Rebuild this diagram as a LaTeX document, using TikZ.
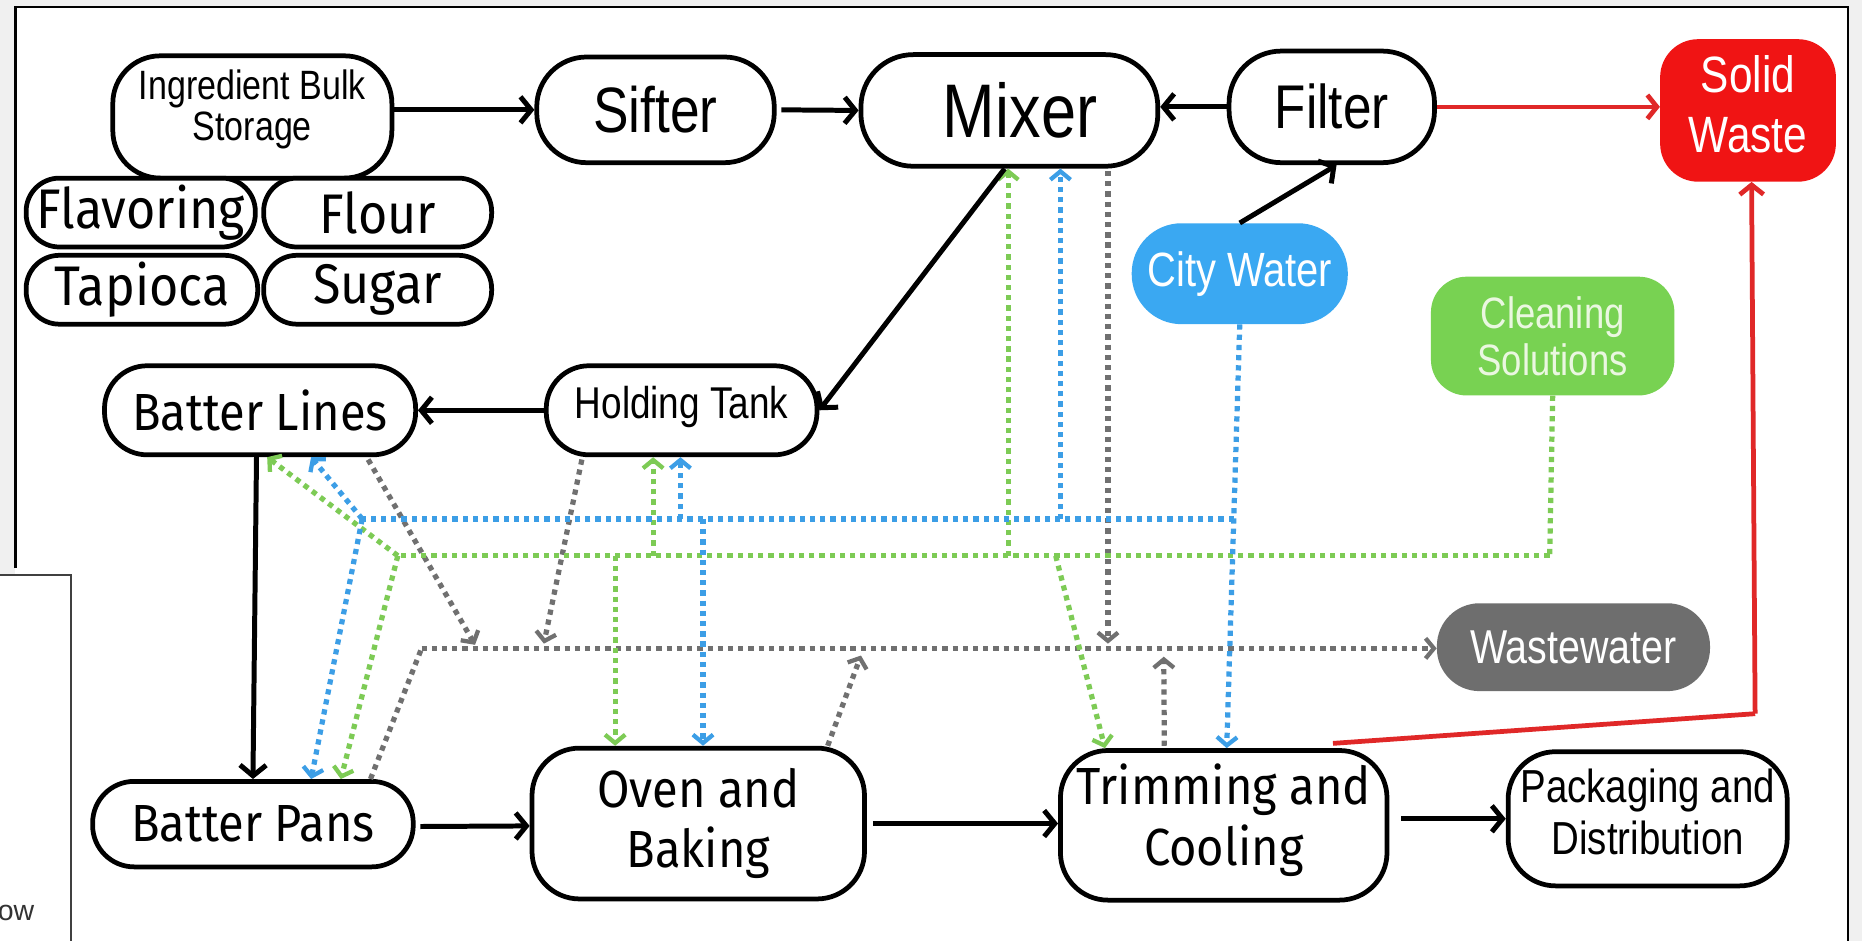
\documentclass[tikz,border=0pt]{standalone}
\usepackage{fontspec}
\setmainfont{Liberation Sans}
\newfontfamily\narrowsf[FakeStretch=0.83]{Liberation Sans}
\newfontfamily\roundsf[FakeStretch=0.9]{Fira Sans}
\usetikzlibrary{arrows.meta}
\newcommand{\setfs}[2]{\fontsize{#1}{#2}\selectfont}
\definecolor{pagegray}{HTML}{F0F0F0}
\definecolor{wastered}{HTML}{F01414}
\definecolor{linered}{HTML}{E02828}
\definecolor{waterblue}{HTML}{3AA8F2}
\definecolor{dotblue}{HTML}{3C9EE6}
\definecolor{cleangreen}{HTML}{78D252}
\definecolor{dotgreen}{HTML}{7DCB55}
\definecolor{wwgray}{HTML}{6E6E6E}
\definecolor{dotgray}{HTML}{707070}
\definecolor{paletext}{HTML}{EAF7E0}
\tikzset{
  box/.style={draw=black, line width=4pt, fill=white, inner sep=0pt, align=center},
  filled/.style={inner sep=0pt, align=center},
  flow/.style={draw=black, line width=4.2pt, -{Straight Barb[length=9pt,width=22pt]}},
  redflow/.style={draw=linered, line width=4pt, -{Straight Barb[length=8pt,width=20pt]}},
  redline/.style={draw=linered, line width=4pt},
  dots/.style={line width=4.4pt, dash pattern=on 4.4pt off 4.2pt},
  dtip/.style={-{Straight Barb[length=7pt,width=17pt,line width=3.6pt]}},
  bluedot/.style={dots, draw=dotblue},
  greendot/.style={dots, draw=dotgreen},
  graydot/.style={dots, draw=dotgray},
}
\begin{document}
\begin{tikzpicture}[x=1pt,y=-1pt]
\useasboundingbox (0,0) rectangle (1568,792);
% page and window frame
\fill[pagegray] (0,0) rectangle (1568,792);
\fill[white] (13,6) rectangle (1556,800);
\draw[line width=2pt] (13,478) -- (13,6) -- (1556,6) -- (1556,800);
% second window in the lower left corner
\fill[white] (-5,484) rectangle (60,800);
\draw[line width=1.4pt, draw=black!75] (-5,484) -- (60,484) -- (60,800);
\node[anchor=east, inner sep=0pt, font=\setfs{24}{28}, text=black!80] (owtext) at (29,769) {ow};

% ingredient nodes
\node[box, minimum width=235pt, minimum height=103pt, rounded corners=40pt, text depth=20pt, font={\narrowsf\setfs{34.5}{34}}] (ibs) at (212.5,98.5) {Ingredient Bulk\\Storage};
\node[box, minimum width=193pt, minimum height=58pt, rounded corners=28pt, font={\roundsf\setfs{47}{48}}] (flav) at (118.5,179) {Flavoring};
\node[box, minimum width=192pt, minimum height=58pt, rounded corners=28pt, font={\roundsf\setfs{47}{48}}] (flour) at (318,179) {Flour};
\node[box, minimum width=195pt, minimum height=58pt, rounded corners=28pt, font={\roundsf\setfs{47}{48}}] (tapi) at (119.5,244) {Tapioca};
\node[box, minimum width=192pt, minimum height=58pt, rounded corners=28pt, font={\roundsf\setfs{47}{48}}] (sugar) at (318,244) {Sugar};

% top row
\node[box, minimum width=200pt, minimum height=89pt, rounded corners=42pt, font={\narrowsf\setfs{54}{60}}] (sifter) at (552,92.5) {Sifter};
\node[box, minimum width=250pt, minimum height=94pt, rounded corners=44pt, font={\narrowsf\setfs{64}{68}}] (mixer) at (850,93) {\hspace*{18pt}Mixer};
\node[box, minimum width=173pt, minimum height=94pt, rounded corners=44pt, font={\narrowsf\setfs{52}{58}}] (filter) at (1121.5,90) {Filter};
\node[filled, fill=wastered, minimum width=148pt, minimum height=120pt, rounded corners=32pt, text=white, text depth=11pt, font={\narrowsf\setfs{43}{51}}] (solid) at (1472,93) {Solid\\Waste};

% utilities
\node[filled, fill=waterblue, minimum width=182pt, minimum height=85pt, rounded corners=42pt, text=white, font={\narrowsf\setfs{40.5}{46}}] (city) at (1044,230.5) {City Water};
\node[filled, fill=cleangreen, minimum width=205pt, minimum height=100pt, rounded corners=30pt, text=paletext, font={\narrowsf\setfs{37}{40}}] (clean) at (1307.5,283) {Cleaning\\Solutions};
\node[filled, fill=wwgray, minimum width=230pt, minimum height=74pt, rounded corners=36pt, text=white, font={\narrowsf\setfs{40}{46}}] (waste) at (1325,545) {Wastewater};

% batter handling
\node[box, minimum width=262pt, minimum height=75pt, rounded corners=36pt, font={\roundsf\setfs{44}{48}}] (blines) at (219,345.5) {Batter Lines};
\node[box, minimum width=228pt, minimum height=75pt, rounded corners=36pt, text depth=14pt, font={\narrowsf\setfs{37.5}{42}}] (htank) at (574,345.5) {Holding Tank};
\node[box, minimum width=270pt, minimum height=72pt, rounded corners=35pt, font={\roundsf\setfs{44}{48}}] (bpans) at (213,694) {Batter Pans};

% bottom row
\node[box, minimum width=280pt, minimum height=127pt, rounded corners=40pt, font={\roundsf\setfs{44}{51}}] (oven) at (588,693.5) {Oven and\\Baking};
\node[box, minimum width=275pt, minimum height=126pt, rounded corners=40pt, text depth=18pt, font={\roundsf\setfs{44}{51}}] (trim) at (1030.5,695) {Trimming and\\Cooling};
\node[box, minimum width=235pt, minimum height=113pt, rounded corners=40pt, text depth=12pt, font={\narrowsf\setfs{39}{44}}] (pack) at (1387.5,689.5) {Packaging and\\Distribution};

% bus junctions
\coordinate (bw) at (305,437);
\coordinate (be) at (1039,437);
\coordinate (bm) at (893,437);
\coordinate (bh) at (573,437);
\coordinate (bo) at (592,437);
\coordinate (gw) at (335,468);
\coordinate (ge) at (1305,468);
\coordinate (gm) at (849,468);
\coordinate (gh) at (550,468);
\coordinate (go) at (518,468);
\coordinate (gt) at (889,468);
\coordinate (rw) at (355,546);
\coordinate (r1) at (400,543);
\coordinate (r2) at (458,542);
\coordinate (r3) at (933,542);
\coordinate (r4) at (725,552);
\coordinate (r5) at (980,553);
\coordinate (rc) at (1478,601);

% wastewater collection (gray)
\draw[graydot] ([xshift=99pt]bpans.north) -- (rw);
\draw[graydot, dtip] (rw) -- (rw -| waste.west);
\draw[graydot, dtip] ([xshift=91pt,yshift=-2pt]blines.south) -- (r1);
\draw[graydot, dtip] ([xshift=-84pt,yshift=-2pt]htank.south) -- (r2);
\draw[graydot, dtip] ([xshift=83pt,yshift=-2pt]mixer.south) -- (r3);
\draw[graydot, dtip] ([xshift=109pt]oven.north) -- (r4);
\draw[graydot, dtip] ([xshift=-50pt,yshift=2pt]trim.north) -- (r5);

% cleaning solutions (green)
\draw[greendot] (clean.south) -- (ge);
\draw[greendot] (ge) -- (gw);
\draw[greendot, dtip] (gm) -- (gm |- mixer.south);
\draw[greendot, dtip] (gh) -- (gh |- htank.south);
\draw[greendot, dtip] (go) -- (go |- oven.north);
\draw[greendot, dtip] (gt) -- ([xshift=-100pt]trim.north);
\draw[greendot, dtip] (gw) -- ([xshift=6pt]blines.south);
\draw[greendot, dtip] (gw) -- ([xshift=74pt]bpans.north);

% city water (blue)
\draw[bluedot, dtip] (city.south) -- ([xshift=2.5pt]trim.north);
\draw[bluedot] (be) -- (bw);
\draw[bluedot, dtip] (bm) -- (bm |- mixer.south);
\draw[bluedot, dtip] (bh) -- (bh |- htank.south);
\draw[bluedot, dtip] (bo) -- (bo |- oven.north);
\draw[bluedot, dtip] (bw) -- ([xshift=43pt]blines.south);
\draw[bluedot, dtip] (bw) -- ([xshift=49pt]bpans.north);

% solid waste (red)
\draw[redflow] (filter.east) -- (filter.east -| solid.west);
\draw[redline] ([xshift=92pt,yshift=4pt]trim.north) -- (rc);
\draw[redflow] (rc) -- ([xshift=3pt]solid.south);

% main product flow (black)
\draw[flow] (ibs.east |- sifter.west) -- (sifter.west);
\draw[flow] ([xshift=4pt]sifter.east) -- (mixer.west);
\draw[flow] (filter.west) -- (filter.west -| mixer.east);
\draw[flow] (city.north) -- ([xshift=4pt]filter.south);
\draw[flow] ([xshift=-4pt]mixer.south) -- (htank.east);
\draw[flow] (htank.west) -- (blines.east);
\draw[flow] ([xshift=-3pt]blines.south) -- (bpans.north);
\draw[flow] ([xshift=4pt,yshift=-2pt]bpans.east) -- ([yshift=-2pt]oven.west);
\draw[flow] ([xshift=5pt]oven.east) -- (oven.east -| trim.west);
\draw[flow] ([xshift=10pt]trim.east |- pack.west) -- (pack.west);
\end{tikzpicture}
\end{document}
